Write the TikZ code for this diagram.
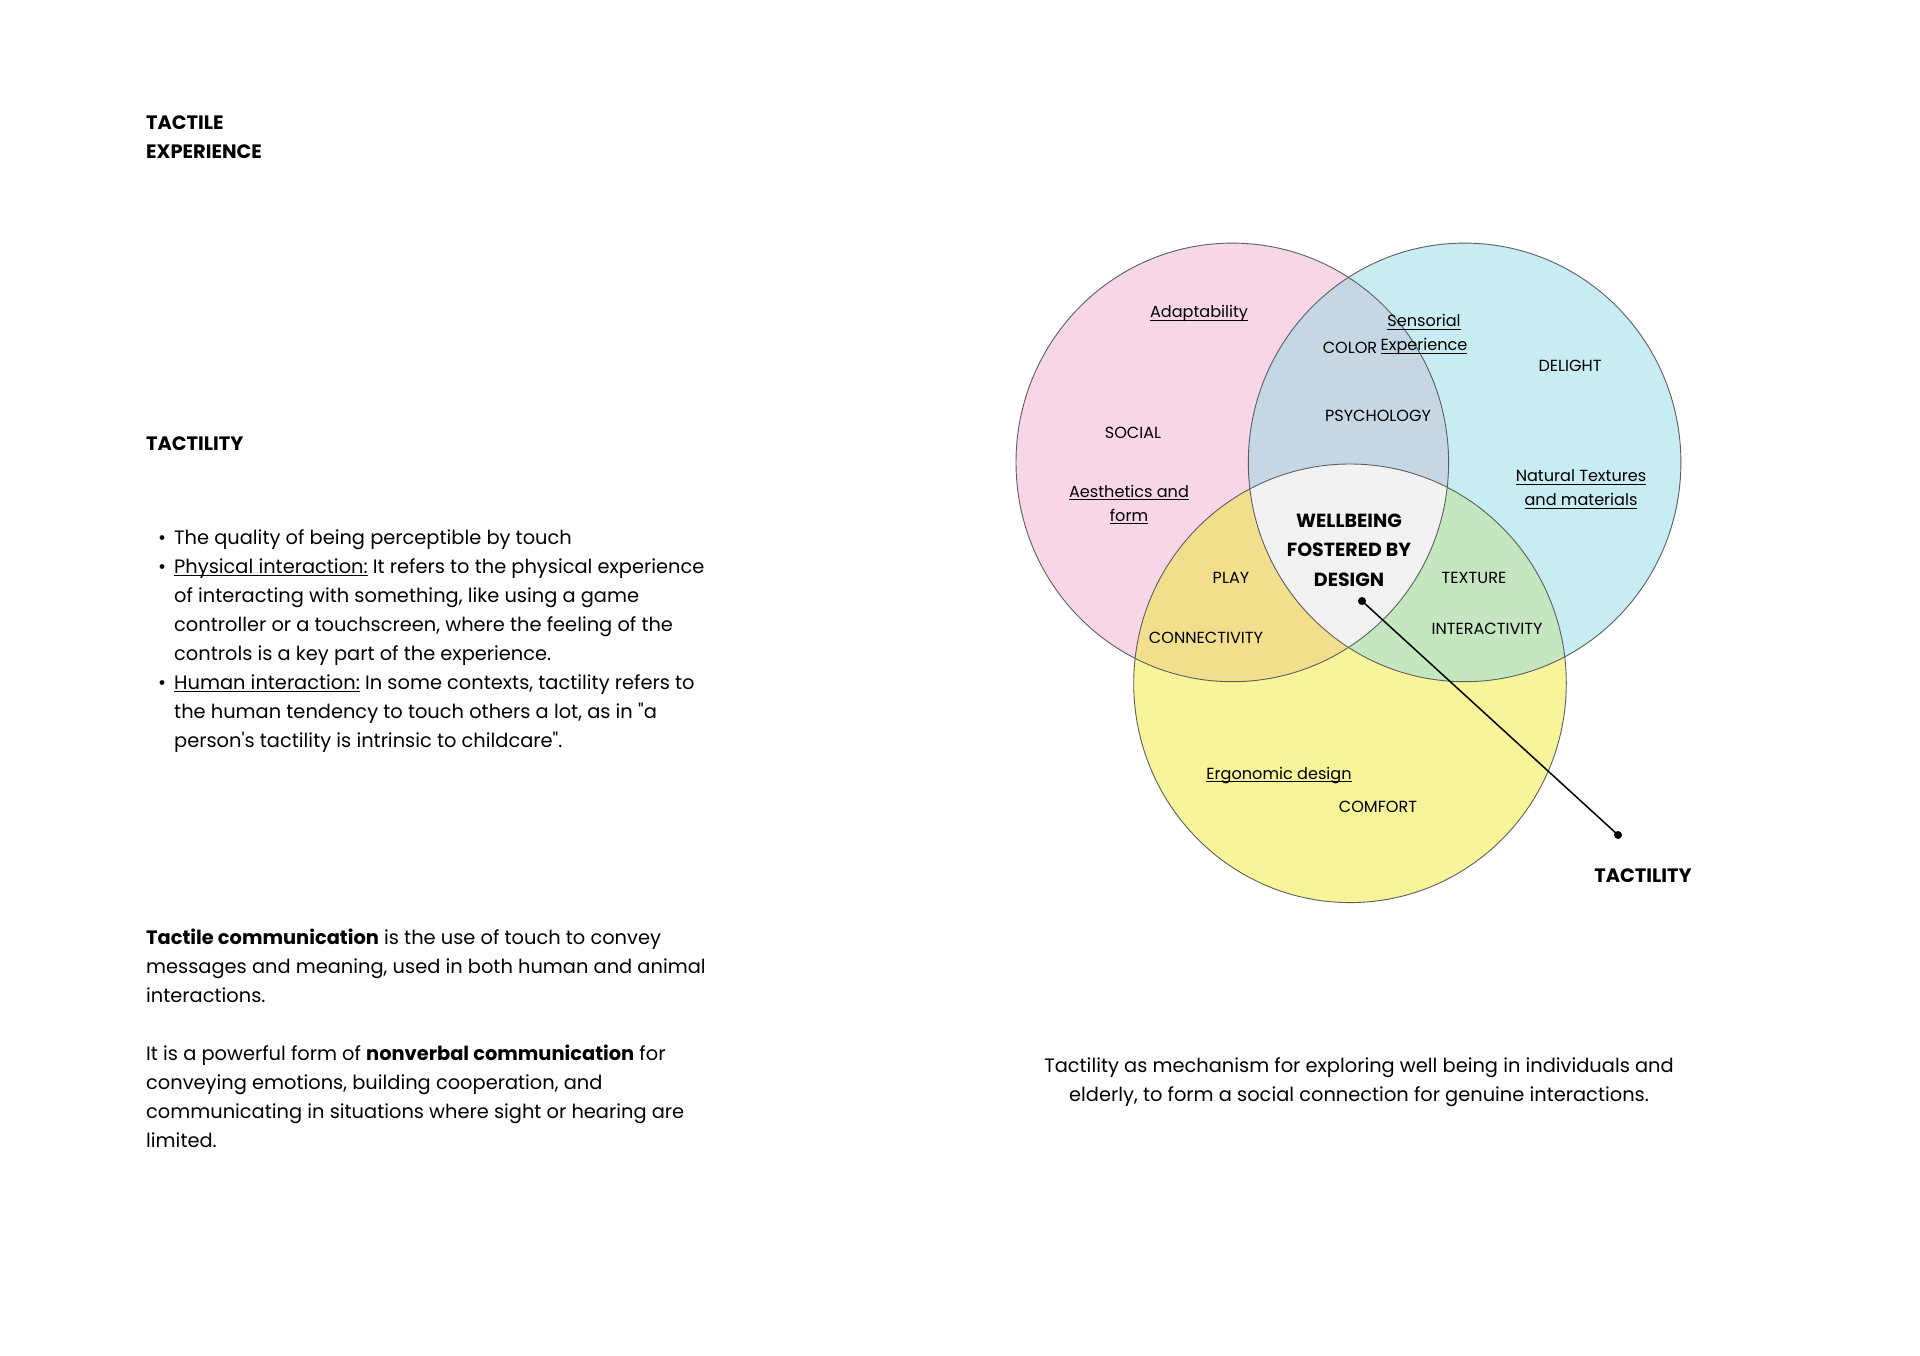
\documentclass[tikz,border=0pt]{standalone}
\usepackage{fontspec}
\setmainfont{Poppins}[Ligatures=TeXOff]
\newcommand{\ulx}[1]{\leavevmode\setbox0=\hbox{#1}\rlap{\rule[-3pt]{\wd0}{0.9pt}}\box0\relax}
\definecolor{pinkc}{HTML}{F7D6E8}
\definecolor{bluec}{HTML}{C7ECF1}
\definecolor{yellowc}{HTML}{F7F49A}
\definecolor{pbc}{HTML}{C5D7E5}
\definecolor{pyc}{HTML}{F2DF8E}
\definecolor{byc}{HTML}{C4E7C0}
\definecolor{midc}{HTML}{F2F2F2}
\definecolor{outc}{HTML}{5E5E5E}
\tikzset{
  lab/.style={font=\fontsize{16.1}{24}\selectfont, inner sep=0pt, text height=0.7em, text depth=0pt, anchor=center},
  mlab/.style={font=\fontsize{16.1}{24}\selectfont, inner sep=0pt, align=center, anchor=center},
  core/.style={font=\fontsize{19}{29.4}\selectfont\bfseries, inner sep=0pt, align=center, anchor=center},
  head/.style={font=\fontsize{19.4}{29.4}\selectfont\bfseries, inner sep=0pt, align=left, anchor=base west},
  body/.style={font=\fontsize{19.4}{29}\selectfont, inner sep=0pt, align=left, anchor=base west},
  capt/.style={font=\fontsize{19.4}{28.2}\selectfont, inner sep=0pt, align=center, anchor=base},
  outl/.style={draw=outc, line width=0.9pt},
  dotn/.style={circle, fill=black, inner sep=0pt, minimum size=8pt},
  conn/.style={draw=black, line width=1.5pt},
  ell/.style={x radius=216.3pt, y radius=219.3pt}
}
\begin{document}
\begin{tikzpicture}[x=1pt,y=-1pt]
\useasboundingbox (0,0) rectangle (1920,1356);
\fill[white] (0,0) rectangle (1920,1356);

% Venn circles
\coordinate (P) at (1232.3,462.4);
\coordinate (B) at (1464.6,462.4);
\coordinate (Y) at (1350,683.3);
\fill[pinkc] (P) ellipse[ell];
\fill[bluec] (B) ellipse[ell];
\fill[yellowc] (Y) ellipse[ell];
\begin{scope}
  \clip (P) ellipse[ell];
  \fill[pbc] (B) ellipse[ell];
  \fill[pyc] (Y) ellipse[ell];
\end{scope}
\begin{scope}
  \clip (B) ellipse[ell];
  \fill[byc] (Y) ellipse[ell];
\end{scope}
\begin{scope}
  \clip (P) ellipse[ell];
  \clip (B) ellipse[ell];
  \fill[midc] (Y) ellipse[ell];
\end{scope}
\draw[outl] (P) ellipse[ell];
\draw[outl] (B) ellipse[ell];
\draw[outl] (Y) ellipse[ell];

% Venn labels
\node[lab] (adapt) at (1199,314.5) {\ulx{Adaptability}};
\node[mlab] (sens) at (1424,334.5) {\ulx{Sensorial}\\\ulx{Experience}};
\node[lab] (color) at (1350,350.5) {COLOR};
\node[lab] (delight) at (1570,367.5) {DELIGHT};
\node[lab] (social) at (1133,434.5) {SOCIAL};
\node[lab] (psych) at (1378,417.5) {PSYCHOLOGY};
\node[mlab] (natural) at (1581,489.5) {\ulx{Natural Textures}\\\ulx{and materials}};
\node[mlab] (aesth) at (1129,504.5) {\ulx{Aesthetics and}\\\ulx{form}};
\node[core] (core) at (1349,550.2) {WELLBEING\\FOSTERED BY\\DESIGN};
\node[lab] (play) at (1231,579.5) {PLAY};
\node[lab] (texture) at (1474,579.5) {TEXTURE};
\node[lab] (connect) at (1206,639.5) {CONNECTIVITY};
\node[lab] (interact) at (1487,630.5) {INTERACTIVITY};
\node[lab] (ergo) at (1279,775.5) {\ulx{Ergonomic design}};
\node[lab] (comfort) at (1378,808.5) {COMFORT};

% connector
\node[dotn] (d1) at (1362,601) {};
\node[dotn] (d2) at (1618,835) {};
\draw[conn] (d1.center) -- (d2.center);
\node[font=\fontsize{19.4}{22}\selectfont\bfseries, inner sep=0pt, text height=0.7em, text depth=0pt] (tact2) at (1643,878.7) {TACTILITY};

% left column
\node[head] (title) at (146,159) {TACTILE\\EXPERIENCE};
\node[head] (tact1) at (146,450) {TACTILITY};

\node[body] (bul1) at (158,544) {•};
\node[body] (bul2) at (158,573) {•};
\node[body] (bul3) at (158,689) {•};
\node[body] (bullets) at (174,747) {The quality of being perceptible by touch\\
\ulx{Physical interaction:} It refers to the physical experience\\
of interacting with something, like using a game\\
controller or a touchscreen, where the feeling of the\\
controls is a key part of the experience.\\
\ulx{Human interaction:} In some contexts, tactility refers to\\
the human tendency to touch others a lot, as in "a\\
person's tactility is intrinsic to childcare".};

\node[body] (comm) at (146,1147) {\textbf{Tactile communication} is the use of touch to convey\\
messages and meaning, used in both human and animal\\
interactions.\\[29pt]
It is a powerful form of \textbf{nonverbal communication} for\\
conveying emotions, building cooperation, and\\
communicating in situations where sight or hearing are\\
limited.};

\node[capt] (caption) at (1359,1101) {Tactility as mechanism for exploring well being in individuals and\\
elderly, to form a social connection for genuine interactions.};
\end{tikzpicture}
\end{document}
